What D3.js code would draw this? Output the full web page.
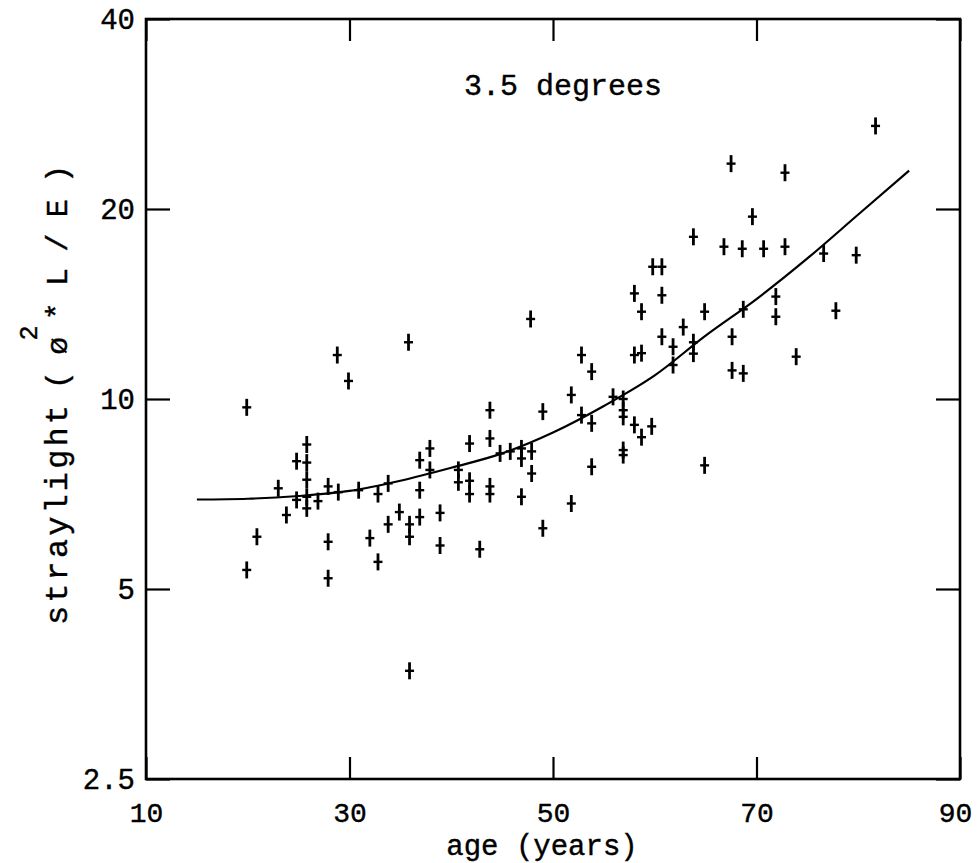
<!DOCTYPE html>
<html>
<head>
<meta charset="utf-8">
<script src="https://cdn.jsdelivr.net/npm/d3@7"></script>
<style>
  html, body { margin: 0; padding: 0; background: #fff; }
  svg { display: block; }
</style>
</head>
<body>
<div id="chart"></div>
<script>
// straylight vs age, 3.5 degrees

const ages = [
  19.9, 19.9, 20.9, 23.0, 23.8, 24.8, 24.8, 25.8, 25.8, 25.8,
  25.8, 25.8, 26.9, 27.9, 27.9, 27.9, 28.8, 28.9, 29.9, 30.9,
  32.0, 32.8, 32.8, 33.8, 33.8, 34.9, 35.8, 35.9, 35.9, 35.9,
  36.9, 36.9, 36.9, 37.9, 37.9, 38.9, 38.9, 40.7, 40.7, 41.8,
  41.8, 41.8, 42.8, 43.8, 43.8, 43.8, 43.8, 44.8, 45.8, 46.9,
  46.9, 46.9, 47.8, 47.9, 47.9, 49.0, 49.0, 51.8, 51.8, 52.8,
  52.8, 53.8, 53.8, 53.8, 55.9, 56.9, 56.9, 56.9, 56.9, 56.9,
  58.0, 58.0, 58.0, 58.7, 58.7, 58.7, 59.7, 59.8, 60.7, 60.7,
  60.7, 61.8, 61.8, 62.8, 63.8, 63.8, 63.8, 64.9, 64.9, 66.8,
  67.5, 67.6, 67.6, 68.6, 68.7, 68.7, 69.6, 70.7, 71.9, 71.9,
  72.8, 72.8, 73.9, 76.6, 77.8, 79.8, 81.7
];
const straylight = [
  9.7, 5.36, 6.05, 7.22, 6.55, 7.97, 6.92, 8.47, 7.93, 7.45,
  7.0, 6.71, 6.89, 7.27, 5.94, 5.2, 11.74, 7.12, 10.68, 7.17,
  6.02, 7.07, 5.52, 7.35, 6.33, 6.62, 12.3, 6.33, 6.05, 3.71,
  8.0, 7.17, 6.5, 8.35, 7.72, 6.6, 5.86, 7.72, 7.38, 8.5,
  7.42, 7.07, 5.78, 9.6, 8.66, 7.27, 7.07, 8.2, 8.26, 8.35,
  8.05, 7.0, 13.39, 8.26, 7.62, 9.55, 6.24, 10.15, 6.83, 11.74,
  9.43, 11.05, 9.15, 7.81, 10.08, 10.0, 9.6, 9.37, 8.3, 8.15,
  14.7, 11.74, 9.1, 13.75, 11.82, 8.7, 9.05, 16.2, 16.2, 14.6,
  12.55, 12.1, 11.32, 13.0, 18.07, 12.3, 11.8, 13.75, 7.85, 17.43,
  23.6, 12.55, 11.1, 17.3, 13.87, 10.98, 19.45, 17.3, 14.53, 13.5,
  22.83, 17.43, 11.67, 17.0, 13.8, 16.9, 27.08
];

// fitted curve
const fitAges = [15, 20, 25, 30, 35, 40, 45, 50, 55, 60, 65, 70, 75, 80, 85];
const fitValues = [6.93, 6.95, 7.02, 7.15, 7.42, 7.78, 8.2, 8.85, 9.75, 10.9, 12.6, 14.4, 16.7, 19.6, 23.0];

const xTicks = [10, 30, 50, 70, 90];
const yTicks = [2.5, 5, 10, 20, 40];

const W = 977, H = 863;
const m = { left: 146, right: 960, top: 19, bottom: 779 };
const FONT = '"Liberation Mono", "Courier New", monospace';

const svg = d3.select('#chart').append('svg')
  .attr('width', W)
  .attr('height', H);

const x = d3.scaleLinear().domain([10, 90]).range([m.left, m.right]);
const y = d3.scaleLog().base(2).domain([2.5, 40]).range([m.bottom, m.top]);

function styleAxis(g, size) {
  g.select('.domain').remove();
  g.selectAll('.tick line').attr('stroke', '#000').attr('stroke-width', 2.2);
  g.selectAll('text')
    .attr('font-family', FONT)
    .attr('font-size', size || 30)
    .attr('fill', '#000')
    .attr('stroke', '#000')
    .attr('stroke-width', 0.4);
}

// bottom axis with labels
const xAxisG = svg.append('g')
  .attr('transform', `translate(0,${m.bottom})`)
  .call(d3.axisBottom(x).tickValues(xTicks).tickSize(-22).tickPadding(23).tickFormat(d => d))
  .call(styleAxis, 28);
xAxisG.selectAll('.tick text').filter(d => d === 90).attr('dx', -5);

svg.append('g')
  .attr('transform', `translate(0,${m.top})`)
  .call(d3.axisTop(x).tickValues(xTicks).tickSize(-22).tickFormat(''))
  .call(styleAxis);

svg.append('g')
  .attr('transform', `translate(${m.left},0)`)
  .call(d3.axisLeft(y).tickValues(yTicks).tickSize(-24).tickPadding(11).tickFormat(d => String(d)))
  .call(styleAxis, 29);

svg.append('g')
  .attr('transform', `translate(${m.right},0)`)
  .call(d3.axisRight(y).tickValues(yTicks).tickSize(-24).tickFormat(''))
  .call(styleAxis);

// frame
svg.append('rect')
  .attr('x', m.left).attr('y', m.top)
  .attr('width', m.right - m.left).attr('height', m.bottom - m.top)
  .attr('fill', 'none')
  .attr('stroke', '#000')
  .attr('stroke-width', 2.6);

// fitted curve
const line = d3.line()
  .x((d, i) => x(fitAges[i]))
  .y(d => y(d))
  .curve(d3.curveMonotoneX);

svg.append('path')
  .datum(fitValues)
  .attr('d', line)
  .attr('fill', 'none')
  .attr('stroke', '#000')
  .attr('stroke-width', 2.2);

// data crosses
const pts = svg.append('g').selectAll('g')
  .data(ages.map((a, i) => [a, straylight[i]]))
  .join('g')
  .attr('transform', d => `translate(${x(d[0])},${y(d[1])})`);

pts.append('line')
  .attr('x1', 0).attr('x2', 0).attr('y1', -8.5).attr('y2', 8.5)
  .attr('stroke', '#000').attr('stroke-width', 2.8);
pts.append('line')
  .attr('x1', -4.5).attr('x2', 4.5).attr('y1', 0).attr('y2', 0)
  .attr('stroke', '#000').attr('stroke-width', 2.4);

function label(sel) {
  return sel.attr('font-family', FONT).attr('fill', '#000')
    .attr('stroke', '#000').attr('stroke-width', 0.4);
}

// annotation
svg.append('text')
  .attr('x', 563).attr('y', 95)
  .attr('text-anchor', 'middle')
  .attr('font-size', 30)
  .call(label)
  .text('3.5 degrees');

// x title
svg.append('text')
  .attr('x', 542).attr('y', 855)
  .attr('text-anchor', 'middle')
  .attr('font-size', 29)
  .call(label)
  .text('age (years)');

// y title, rotated
const yt = svg.append('g').attr('transform', 'translate(67,0) rotate(-90)');
yt.append('text')
  .attr('x', -625).attr('y', 0)
  .attr('font-size', 32)
  .attr('textLength', 220).attr('lengthAdjust', 'spacing')
  .call(label)
  .text('straylight');
yt.append('text')
  .attr('x', -389).attr('y', 0)
  .attr('font-size', 30)
  .attr('textLength', 224).attr('lengthAdjust', 'spacing')
  .call(label)
  .text('( \u00f8 * L / E  )');
yt.append('text')
  .attr('x', -333).attr('y', -30)
  .attr('text-anchor', 'middle')
  .attr('font-size', 25)
  .call(label)
  .text('2');
</script>
</body>
</html>
